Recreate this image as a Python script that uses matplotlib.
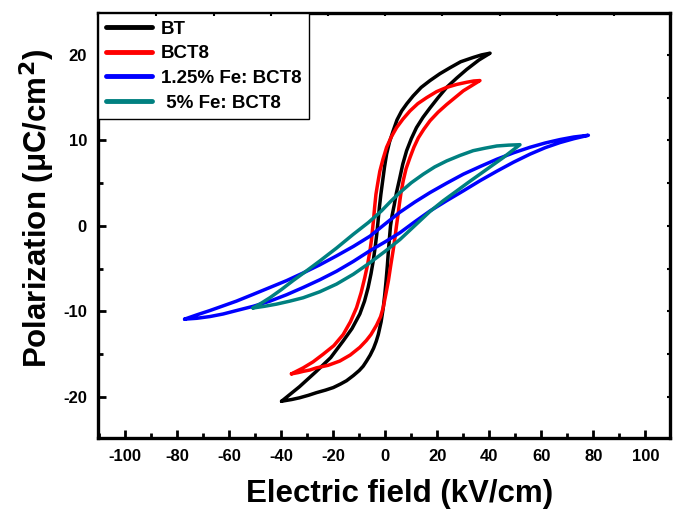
import matplotlib
matplotlib.use("Agg")
import matplotlib.pyplot as plt
from matplotlib.ticker import MultipleLocator

plt.rcParams['font.family'] = ['Liberation Sans', 'DejaVu Sans']
plt.rcParams['font.weight'] = 'bold'

labels = ["BT", "BCT8", "1.25% Fe: BCT8", " 5% Fe: BCT8"]
colors = ["#000000", "#ff0000", "#0000ff", "#008080"]

# BT: lower branch (increasing field) then upper branch (decreasing field)
bt_low_E = [-39.9, -36.0, -33.0, -29.5, -26.5, -23.0, -20.0, -17.3, -14.9, -12.3, -10.0, -8.5, -7.2, -5.8, -4.5, -3.5, -2.7, -1.6, -0.8, -0.2, 0.3, 0.8, 1.2, 1.6, 2.0, 2.6, 3.4, 4.3, 5.6, 6.7, 8.2, 10.0, 12.0, 14.5, 17.2, 20.3, 23.6, 27.5, 31.3, 36.0, 40.3]
bt_low_P = [-20.5, -20.3, -20.1, -19.8, -19.5, -19.2, -18.9, -18.5, -18.1, -17.5, -16.9, -16.4, -15.8, -15.1, -14.3, -13.5, -12.7, -11.2, -9.6, -8.0, -6.4, -4.6, -2.9, -1.4, 0.0, 1.2, 2.4, 3.9, 5.65, 7.2, 8.8, 10.2, 11.5, 12.7, 13.8, 15.0, 16.2, 17.3, 18.3, 19.4, 20.2]
bt_up_E = [40.3, 37.0, 33.8, 29.0, 24.9, 21.0, 17.2, 13.8, 10.7, 8.3, 6.3, 4.5, 3.0, 1.6, 0.5, -0.3, -1.0, -1.7, -2.3, -2.8, -3.3, -3.9, -4.65, -5.5, -6.6, -8.0, -9.8, -12.8, -16.2, -21.0, -26.5, -33.0, -39.9]
bt_up_P = [20.2, 20.0, 19.7, 19.2, 18.5, 17.8, 17.0, 16.2, 15.2, 14.3, 13.45, 12.4, 11.1, 9.8, 8.4, 6.9, 5.3, 3.7, 2.1, 0.5, -1.0, -2.5, -4.1, -5.6, -7.2, -8.8, -10.3, -12.0, -13.45, -15.4, -17.0, -18.8, -20.5]

# BCT8
bct_low_E = [-36.1, -33.5, -31.5, -29.0, -26.5, -22.0, -17.5, -13.5, -9.8, -7.3, -5.5, -3.35, -1.8, -0.8, 0.2, 1.2, 2.1, 3.0, 3.7, 4.3, 4.8, 5.3, 6.0, 6.9, 8.0, 9.5, 11.0, 12.7, 14.8, 17.2, 20.3, 23.6, 26.8, 30.0, 33.2, 36.4]
bct_low_P = [-17.3, -17.15, -17.0, -16.85, -16.6, -16.3, -15.8, -15.1, -14.2, -13.4, -12.7, -11.6, -10.6, -9.55, -8.0, -6.4, -4.6, -2.9, -1.4, 0.0, 1.1, 2.3, 3.8, 5.3, 6.7, 8.0, 9.2, 10.3, 11.3, 12.3, 13.3, 14.2, 15.0, 15.8, 16.4, 17.0]
bct_up_E = [36.4, 34.0, 31.3, 27.5, 23.6, 19.7, 15.9, 12.5, 9.5, 6.8, 4.35, 2.3, 0.5, -0.9, -2.1, -2.9, -3.6, -4.1, -4.5, -4.9, -5.3, -5.9, -6.8, -7.9, -9.3, -11.05, -13.4, -16.2, -19.8, -23.9, -27.8, -31.6, -36.1]
bct_up_P = [17.0, 16.95, 16.8, 16.55, 16.2, 15.7, 15.0, 14.3, 13.45, 12.5, 11.5, 10.4, 9.2, 7.8, 6.4, 5.0, 3.7, 2.2, 0.8, -0.4, -1.6, -2.9, -4.5, -6.05, -7.8, -9.55, -11.2, -12.7, -14.0, -15.0, -15.9, -16.6, -17.3]

# 1.25% Fe: BCT8
fe1_low_E = [-77.2, -72.5, -67.5, -62.4, -57.3, -50.8, -44.4, -38.0, -31.6, -25.2, -18.75, -12.3, -5.9, 0.0, 5.6, 11.4, 17.2, 23.6, 30.0, 36.5, 42.9, 49.3, 55.7, 61.5, 67.2, 72.5, 78.1]
fe1_low_P = [-10.9, -10.8, -10.6, -10.3, -9.9, -9.4, -8.8, -8.05, -7.2, -6.3, -5.3, -4.15, -2.9, -1.85, -0.8, 0.5, 1.75, 2.95, 4.1, 5.3, 6.4, 7.45, 8.4, 9.15, 9.75, 10.2, 10.6]
fe1_up_E = [78.1, 72.5, 67.2, 61.5, 55.7, 49.3, 42.9, 36.5, 30.0, 23.6, 17.2, 11.4, 5.6, 0.0, -5.9, -12.3, -18.75, -25.2, -31.6, -38.0, -44.4, -50.8, -57.3, -62.4, -67.5, -72.5, -77.2]
fe1_up_P = [10.6, 10.4, 10.1, 9.7, 9.2, 8.55, 7.8, 6.95, 6.05, 5.0, 3.9, 2.8, 1.6, 0.25, -1.2, -2.4, -3.5, -4.55, -5.5, -6.4, -7.2, -8.0, -8.8, -9.35, -9.9, -10.4, -10.9]

# 5% Fe: BCT8
fe5_low_E = [-50.9, -46.5, -41.9, -36.8, -31.6, -25.2, -18.75, -12.3, -5.9, 0.0, 5.6, 11.4, 17.2, 22.3, 27.5, 32.0, 36.4, 41.0, 45.4, 48.8, 51.8]
fe5_low_P = [-9.6, -9.4, -9.15, -8.8, -8.4, -7.7, -6.8, -5.65, -4.3, -2.95, -1.6, 0.05, 1.7, 2.95, 4.1, 5.1, 6.05, 7.05, 8.0, 8.8, 9.5]
fe5_up_E = [51.8, 47.5, 42.9, 38.5, 33.8, 28.8, 23.6, 19.0, 14.6, 10.0, 5.6, 2.0, -1.5, -6.5, -12.4, -18.8, -25.2, -30.5, -35.5, -40.0, -44.4, -47.8, -50.9]
fe5_up_P = [9.5, 9.45, 9.35, 9.1, 8.8, 8.25, 7.6, 6.9, 6.05, 5.05, 3.9, 2.85, 1.75, 0.4, -1.0, -2.6, -4.1, -5.3, -6.4, -7.45, -8.4, -9.05, -9.6]

x_major = [-100, -80, -60, -40, -20, 0, 20, 40, 60, 80, 100]
y_major = [-20, -10, 0, 10, 20]

series = [
    (bt_low_E + bt_up_E, bt_low_P + bt_up_P),
    (bct_low_E + bct_up_E, bct_low_P + bct_up_P),
    (fe1_low_E + fe1_up_E, fe1_low_P + fe1_up_P),
    (fe5_low_E + fe5_up_E, fe5_low_P + fe5_up_P),
]

fig = plt.figure(figsize=(6.78, 5.12), dpi=100)
ax = fig.add_axes([98/678, 1-438/512, (670-98)/678, (438-13)/512])

for (E, P), c, lab in zip(series, colors, labels):
    ax.plot(E, P, color=c, lw=2.5, label=lab, solid_joinstyle='round', solid_capstyle='round')

ax.set_xlim(-110.5, 109.5)
ax.set_ylim(-24.8, 24.9)
ax.set_xticks(x_major)
ax.set_yticks(y_major)
ax.set_xticklabels([str(v) for v in x_major])
ax.set_yticklabels([str(v) for v in y_major])
ax.xaxis.set_minor_locator(MultipleLocator(10))
ax.yaxis.set_minor_locator(MultipleLocator(5))
ax.tick_params(which='major', direction='in', length=6, width=2, labelsize=12, pad=8)
ax.tick_params(which='minor', direction='in', length=3.5, width=2)
ax.tick_params(top=False, right=False, which='both')
for lab in ax.get_xticklabels() + ax.get_yticklabels():
    lab.set_fontweight('bold')

for sp in ax.spines.values():
    sp.set_linewidth(2.4)

# top / right small ticks
axt = ax.twiny()
axt.set_xlim(ax.get_xlim())
axt.set_xticks([-88, -66, -44, -22, 0, 22, 44, 66, 88])
axt.tick_params(direction='in', length=2.5, width=1.5, labeltop=False)
axr = ax.twinx()
axr.set_ylim(ax.get_ylim())
axr.set_yticks([-20, -15, -10, -5, 0, 5, 10, 15, 20])
axr.tick_params(direction='in', length=2.5, width=1.5, labelright=False)
for a in (axt, axr):
    for sp in a.spines.values():
        sp.set_visible(False)

ax.set_xlabel("Electric field (kV/cm)", fontsize=22.5, fontweight='bold')
ax.set_ylabel("Polarization (\u03bcC/cm$^{\\mathbf{2}}$)", fontsize=22.5, fontweight='bold')
ax.xaxis.set_label_coords(0.527, -0.097)
ax.yaxis.set_label_coords(-0.072, 0.54)

leg = ax.legend(loc='upper left', bbox_to_anchor=(0, 1), borderaxespad=0,
                fontsize=13.5, frameon=True, fancybox=False, framealpha=1,
                edgecolor='black', handlelength=2.5, handletextpad=0.45,
                labelspacing=0.4, borderpad=0.4)
leg.get_frame().set_linewidth(1.0)
for t in leg.get_texts():
    t.set_fontweight('bold')
for l in leg.get_lines():
    l.set_linewidth(3.5)
leg.set_zorder(10)

fig.savefig("out.png", dpi=100)
